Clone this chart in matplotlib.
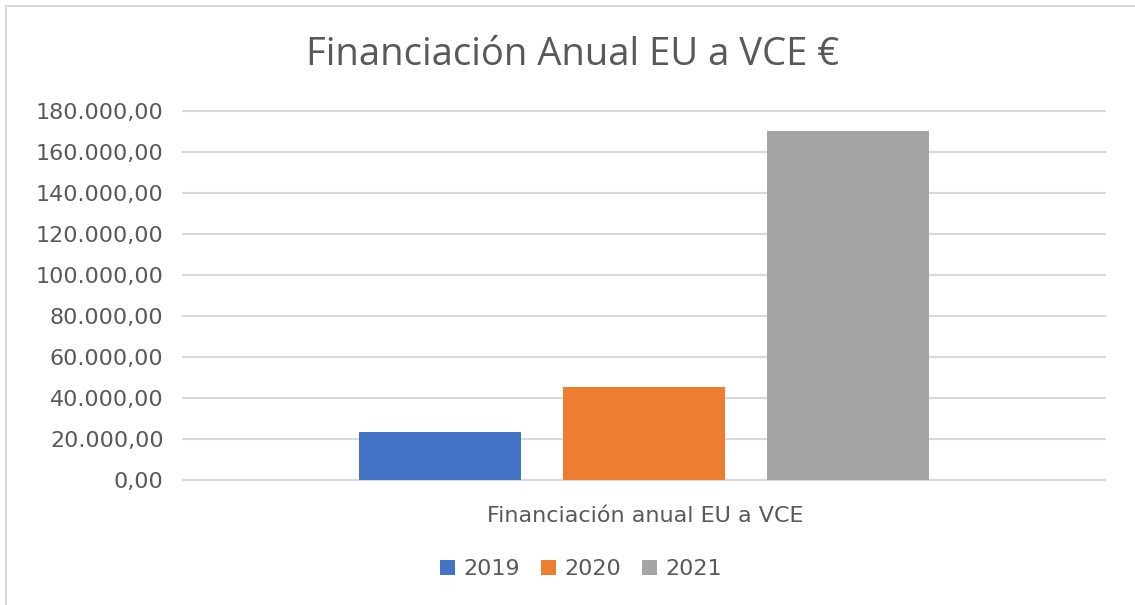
import matplotlib
matplotlib.use("Agg")
import matplotlib.pyplot as plt
from matplotlib.lines import Line2D

plt.rcParams['font.family'] = ['DejaVu Sans']

# Data
years = ["2019", "2020", "2021"]
values = [23200, 45300, 170000]
colors = ["#4472C4", "#ED7D31", "#A5A5A5"]
category = "Financiación anual EU a VCE"
title = "Financiación Anual EU a VCE €"
yticks = list(range(0, 180001, 20000))

TEXT = "#595959"
GRID = "#D9D9D9"

W, H = 1135, 605
fig = plt.figure(figsize=(W / 100, H / 100), dpi=100)
fig.patch.set_facecolor("white")

# Plot area in pixel coordinates
left, right, top, bottom = 183, 1105, 111, 480
ax = fig.add_axes([left / W, 1 - bottom / H, (right - left) / W, (bottom - top) / H])

def fmt(v):
    s = f"{v:,.2f}"
    return s.replace(",", "X").replace(".", ",").replace("X", ".")

spacing = 1.0
width = 0.794
offsets = [-spacing, 0, spacing]
for off, val, col, yr in zip(offsets, values, colors, years):
    ax.bar(off, val, width=width, color=col, label=yr, zorder=3)

ax.set_xlim(-2.26, 2.26)
ax.set_ylim(0, 180000)
ax.set_yticks(yticks)
ax.set_yticklabels([fmt(v) for v in yticks], fontsize=16, color=TEXT)
ax.set_xticks([])
ax.grid(axis="y", color=GRID, linewidth=1.5, zorder=0)
for gl in ax.get_ygridlines():
    gl.set_clip_on(False)
for s in ["top", "right", "left"]:
    ax.spines[s].set_visible(False)
ax.spines["bottom"].set_color(GRID)
ax.spines["bottom"].set_linewidth(1.5)
ax.tick_params(axis="y", length=0, pad=14)

fig.text(645 / W, 1 - 516 / H, category, ha="center", va="center",
         fontsize=16, color=TEXT)
fig.text(573 / W, 1 - 55 / H, title, ha="center", va="center",
         fontsize=27.5, color=TEXT, family=["Open Sans", "DejaVu Sans"])

leg = fig.legend(loc="center", bbox_to_anchor=(581 / W, 1 - 569 / H), ncol=3,
                 frameon=False, fontsize=16, handlelength=0.68, handleheight=0.68,
                 handletextpad=0.36, columnspacing=0.95)
for t in leg.get_texts():
    t.set_color(TEXT)

# Chart frame (top and left edges)
fig.add_artist(Line2D([6 / W, 1.0], [1 - 6 / H, 1 - 6 / H], transform=fig.transFigure,
                      color=GRID, linewidth=1.5))
fig.add_artist(Line2D([6 / W, 6 / W], [1 - 6 / H, 0.0], transform=fig.transFigure,
                      color=GRID, linewidth=1.5))

fig.savefig("out.png", dpi=100, facecolor="white")
